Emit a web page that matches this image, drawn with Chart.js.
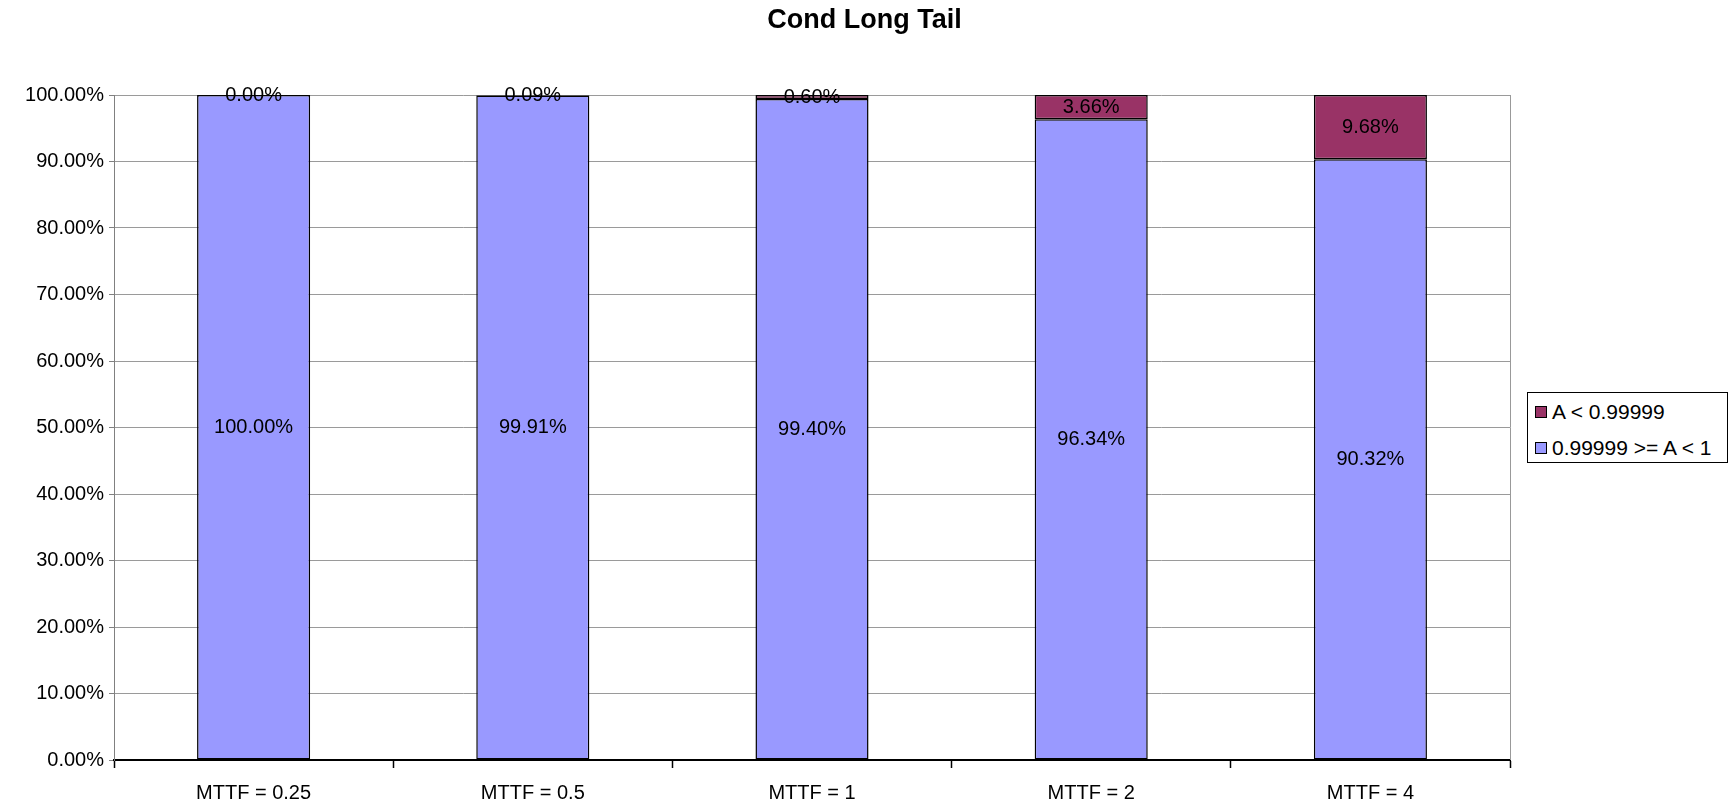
<!DOCTYPE html>
<html>
<head>
<meta charset="utf-8">
<script src="https://cdn.jsdelivr.net/npm/chart.js@4"></script>
<style>
  html, body { margin: 0; padding: 0; background: #fff; }
  #wrap { position: relative; width: 1735px; height: 801px; overflow: hidden; }
  canvas { position: absolute; left: 0; top: 0; }
  #title {
    position: absolute; left: 0; top: 4px; width: 1729px; text-align: center;
    font-family: "Liberation Sans", Arial, sans-serif; font-size: 27px; font-weight: bold;
    line-height: 30px; color: #000;
  }
  #legend {
    position: absolute; left: 1527px; top: 392px; width: 201px; height: 71px;
    border: 1px solid #000; background: #fff; box-sizing: border-box;
    font-family: "Liberation Sans", Arial, sans-serif; font-size: 21px; color: #000;
  }
  .item { position: absolute; left: 7px; white-space: nowrap; line-height: 20px; }
  .sw { display: inline-block; width: 10px; height: 10px; border: 1px solid #000; margin-right: 5px; vertical-align: 1px; }
</style>
</head>
<body>
<div id="wrap">
  <canvas id="c" width="1735" height="801"></canvas>
  <div id="title">Cond Long Tail</div>
  <div id="legend"></div>
</div>
<script>
const categories = ['MTTF = 0.25', 'MTTF = 0.5', 'MTTF = 1', 'MTTF = 2', 'MTTF = 4'];
const midValues = [100.00, 99.91, 99.40, 96.34, 90.32];   // 0.99999 >= A < 1
const lowValues = [0.00, 0.09, 0.60, 3.66, 9.68];          // A < 0.99999
const yTicks = [0, 10, 20, 30, 40, 50, 60, 70, 80, 90, 100];
const seriesNames = ['0.99999 >= A < 1', 'A < 0.99999'];
const seriesColors = ['#9999FF', '#993366'];

const FONT = '"Liberation Sans", Arial, sans-serif';

const labelPlugin = {
  id: 'segLabels',
  afterDatasetsDraw(chart) {
    const ctx = chart.ctx;
    ctx.save();
    ctx.font = '20px ' + FONT;
    ctx.fillStyle = '#000';
    ctx.textAlign = 'center';
    ctx.textBaseline = 'middle';
    chart.data.datasets.forEach((ds, di) => {
      const meta = chart.getDatasetMeta(di);
      meta.data.forEach((el, i) => {
        const p = el.getProps(['x', 'y', 'base'], true);
        ctx.fillText(ds.data[i].toFixed(2) + '%', p.x, (p.y + p.base) / 2);
      });
    });
    ctx.restore();
  }
};

const borderPlugin = {
  id: 'rightBorder',
  beforeDatasetsDraw(chart) {
    const a = chart.chartArea, ctx = chart.ctx;
    ctx.save();
    ctx.strokeStyle = '#999';
    ctx.lineWidth = 1;
    ctx.beginPath();
    ctx.moveTo(Math.round(a.right) + 0.5, a.top);
    ctx.lineTo(Math.round(a.right) + 0.5, a.bottom);
    ctx.stroke();
    ctx.restore();
  }
};

new Chart(document.getElementById('c'), {
  type: 'bar',
  data: {
    labels: categories,
    datasets: [
      { label: seriesNames[0], data: midValues, backgroundColor: seriesColors[0], borderColor: '#000', borderWidth: 1.5, borderSkipped: false },
      { label: seriesNames[1], data: lowValues, backgroundColor: seriesColors[1], borderColor: '#000', borderWidth: 1.5, borderSkipped: false }
    ]
  },
  options: {
    responsive: false,
    animation: false,
    layout: { padding: { left: 0, right: 225, top: 95, bottom: 0 } },
    plugins: {
      legend: { display: false },
      tooltip: { enabled: false },
      title: { display: false }
    },
    datasets: { bar: { categoryPercentage: 1.0, barPercentage: 0.405 } },
    scales: {
      x: {
        stacked: true,
        grid: { offset: true, drawOnChartArea: false, drawTicks: true, tickLength: 8, tickColor: '#000', tickWidth: 1.5 },
        border: { color: '#000', width: 2 },
        ticks: { color: '#000', font: { family: FONT, size: 20 }, padding: 13, maxRotation: 0 },
        afterFit(s) { s.height = 41; }
      },
      y: {
        stacked: true,
        min: 0, max: 100,
        afterBuildTicks(s) { s.ticks = yTicks.map(v => ({ value: v })); },
        grid: { color: '#9a9a9a', lineWidth: 1, borderDash: [2, 1], tickLength: 5, tickColor: '#808080', tickBorderDash: [] },
        border: { color: '#808080', width: 1 },
        ticks: { color: '#000', font: { family: FONT, size: 20 }, padding: 5, callback: v => v.toFixed(2) + '%' },
        afterFit(s) { s.width = 114; }
      }
    }
  },
  plugins: [labelPlugin, borderPlugin]
});

// legend (Excel lists stacked series in reverse order)
const lg = document.getElementById('legend');
[1, 0].forEach((di, k) => {
  const d = document.createElement('div');
  d.className = 'item';
  d.style.top = (k === 0 ? 9 : 45) + 'px';
  d.innerHTML = '<span class="sw" style="background:' + seriesColors[di] + '"></span>';
  d.appendChild(document.createTextNode(seriesNames[di]));
  lg.appendChild(d);
});
</script>
</body>
</html>
